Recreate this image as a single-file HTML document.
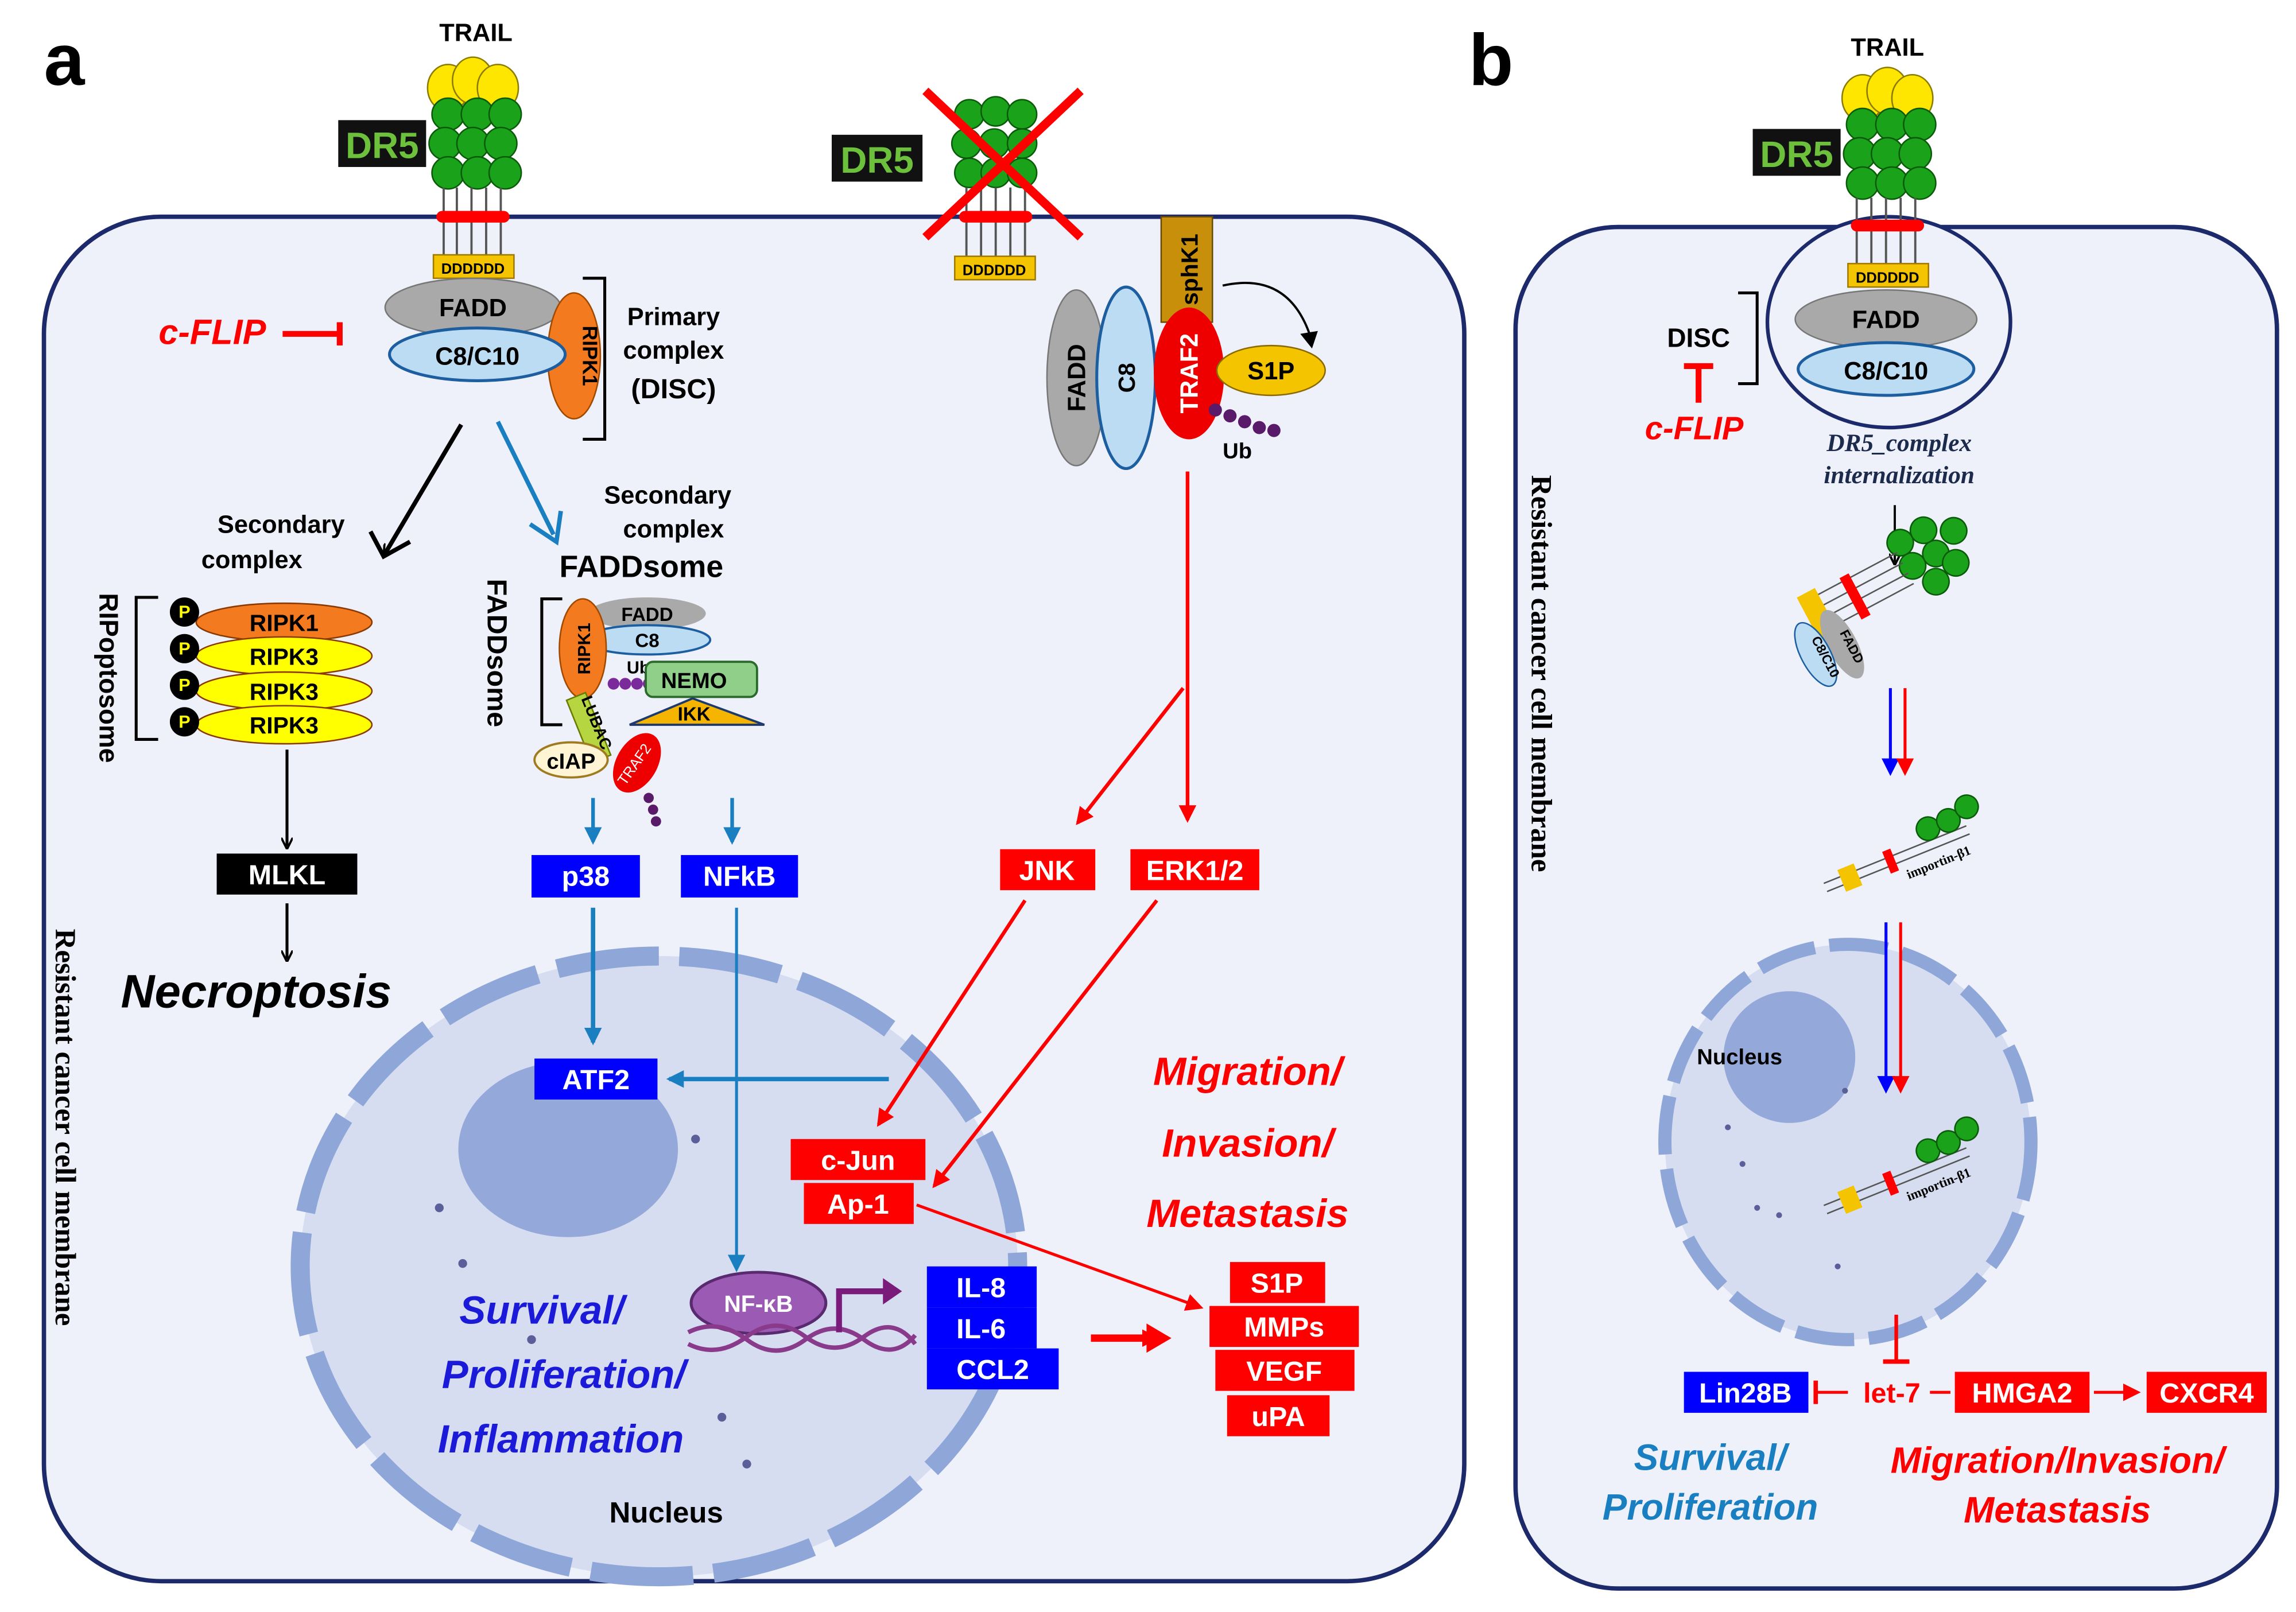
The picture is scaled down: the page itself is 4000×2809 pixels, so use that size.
<!DOCTYPE html>
<html><head><meta charset="utf-8"><style>
html,body{margin:0;padding:0;background:#fff;}
svg{display:block;}
text{font-family:"Liberation Sans",Arial,sans-serif;font-weight:bold;}
.bw{fill:#fff;font-size:19px;text-anchor:middle;}
</style></head><body>
<svg width="4000" height="2809" viewBox="0 0 1568 1101" xmlns="http://www.w3.org/2000/svg">
<defs>
<marker id="ab" markerWidth="8" markerHeight="8" refX="6" refY="4" orient="auto" markerUnits="userSpaceOnUse"><path d="M0,0 L8,4 L0,8" fill="none" stroke="#000" stroke-width="1.5"/></marker>
<marker id="abl" markerWidth="12" markerHeight="12" refX="10" refY="6" orient="auto" markerUnits="userSpaceOnUse"><path d="M0,0 L12,6 L0,12 Z" fill="#1a7fc0"/></marker>
<marker id="ar" markerWidth="12" markerHeight="12" refX="10" refY="6" orient="auto" markerUnits="userSpaceOnUse"><path d="M0,0 L12,6 L0,12 Z" fill="#f00"/></marker>
<marker id="abb" markerWidth="12" markerHeight="12" refX="10" refY="6" orient="auto" markerUnits="userSpaceOnUse"><path d="M0,0 L12,6 L0,12 Z" fill="#00f"/></marker>
<marker id="tr" markerWidth="4" markerHeight="16" refX="2" refY="8" orient="auto" markerUnits="userSpaceOnUse"><rect x="0" y="0" width="4" height="16" fill="#f00"/></marker>
</defs>
<!-- cells -->
<rect x="30" y="148" width="970" height="932" rx="80" fill="#eff1fa" stroke="#1c2a6b" stroke-width="3"/>
<rect x="1035" y="155" width="520" height="930" rx="70" fill="#eff1fa" stroke="#1c2a6b" stroke-width="3"/>
<text x="30" y="58" font-size="50" fill="#000">a</text>
<text x="1003" y="58" font-size="50" fill="#000">b</text>
<text transform="translate(38,770) rotate(90)" font-size="20" text-anchor="middle" style="font-family:'Liberation Serif',serif">Resistant cancer cell membrane</text>
<text transform="translate(1046,460) rotate(90)" font-size="20" text-anchor="middle" style="font-family:'Liberation Serif',serif">Resistant cancer cell membrane</text>
<!-- nucleus a -->
<ellipse cx="450" cy="865" rx="245" ry="212" fill="#d6ddf1" stroke="#8ea6d8" stroke-width="13" stroke-dasharray="70 14"/>
<ellipse cx="388" cy="785" rx="75" ry="60" fill="#94a9d9"/>
<g fill="#5a5f9a"><circle cx="300" cy="825" r="3"/><circle cx="475" cy="778" r="3"/><circle cx="316" cy="863" r="3"/><circle cx="363" cy="915" r="3"/><circle cx="493" cy="968" r="3"/><circle cx="510" cy="1000" r="3"/></g>
<text x="455" y="1040" font-size="20" text-anchor="middle">Nucleus</text>
<!-- nucleus b -->
<ellipse cx="1262" cy="780" rx="125" ry="135" fill="#d6ddf1" stroke="#8ea6d8" stroke-width="9" stroke-dasharray="40 10"/>
<circle cx="1222" cy="722" r="45" fill="#94a9d9"/>
<text x="1188" y="727" font-size="15" text-anchor="middle">Nucleus</text>
<g fill="#5a5f9a"><circle cx="1180" cy="770" r="2"/><circle cx="1190" cy="795" r="2"/><circle cx="1200" cy="825" r="2"/><circle cx="1215" cy="830" r="2"/><circle cx="1260" cy="745" r="2"/><circle cx="1255" cy="865" r="2"/></g>

<!-- Receptor a -->
<g>
<ellipse cx="306" cy="60" rx="14" ry="16" fill="#ffe600" stroke="#8a7a00"/><ellipse cx="323" cy="55" rx="14" ry="16" fill="#ffe600" stroke="#8a7a00"/><ellipse cx="340" cy="60" rx="14" ry="16" fill="#ffe600" stroke="#8a7a00"/>
<g fill="#1aa31a" stroke="#0a5a0a">
<circle cx="306" cy="78" r="11"/><circle cx="326" cy="78" r="11"/><circle cx="345" cy="78" r="11"/>
<circle cx="304" cy="98" r="11"/><circle cx="323" cy="98" r="11"/><circle cx="342" cy="98" r="11"/>
<circle cx="306" cy="118" r="11"/><circle cx="326" cy="118" r="11"/><circle cx="345" cy="118" r="11"/></g>
<g stroke="#555" stroke-width="1.5"><line x1="303" y1="128" x2="303" y2="175"/><line x1="312" y1="128" x2="312" y2="175"/><line x1="322" y1="128" x2="322" y2="175"/><line x1="332" y1="128" x2="332" y2="175"/><line x1="342" y1="128" x2="342" y2="175"/></g>
<rect x="298" y="144" width="50" height="8" rx="4" fill="#f00"/>
<rect x="296" y="174" width="55" height="16" fill="#f5c400" stroke="#a07a00"/>
<text x="323" y="187" font-size="10" text-anchor="middle">DDDDDD</text>
</g>
<rect x="231" y="82" width="60" height="32" fill="#111"/><text x="261" y="108" font-size="25" fill="#6cc03c" text-anchor="middle">DR5</text>
<text x="325" y="28" font-size="17" text-anchor="middle">TRAIL</text>

<!-- DISC a -->
<ellipse cx="323" cy="210" rx="60" ry="20" fill="#a9a9a9" stroke="#777"/>
<text x="323" y="216" font-size="17" text-anchor="middle">FADD</text>
<ellipse cx="392" cy="243" rx="18" ry="43" fill="#f47a20" stroke="#a04a00"/>
<text transform="translate(398,243) rotate(90)" font-size="14" text-anchor="middle">RIPK1</text>
<ellipse cx="326" cy="242" rx="60" ry="18" fill="#bcdcf3" stroke="#1c5ea0" stroke-width="2"/>
<text x="326" y="249" font-size="17" text-anchor="middle">C8/C10</text>
<path d="M398,190 H413 V300 H398" fill="none" stroke="#000" stroke-width="2"/>
<text x="460" y="222" font-size="17" text-anchor="middle">Primary</text>
<text x="460" y="245" font-size="17" text-anchor="middle">complex</text>
<text x="460" y="272" font-size="19" text-anchor="middle">(DISC)</text>
<text x="145" y="235" font-size="24" fill="#f00" font-style="italic" text-anchor="middle">c-FLIP</text>
<line x1="193" y1="228" x2="232" y2="228" stroke="#f00" stroke-width="4" marker-end="url(#tr)"/>

<!-- arrows from DISC -->
<line x1="315" y1="290" x2="263" y2="378" stroke="#000" stroke-width="3" marker-end="url(#ab)"/>
<path d="M253,363 L262,380 L280,370" fill="none" stroke="#000" stroke-width="3"/>
<line x1="340" y1="288" x2="378" y2="365" stroke="#1a7fc0" stroke-width="3"/>
<path d="M362,358 L380,370 L383,349" fill="none" stroke="#1a7fc0" stroke-width="3"/>

<text x="192" y="364" font-size="17" text-anchor="middle">Secondary</text>
<text x="172" y="388" font-size="17" text-anchor="middle">complex</text>
<text transform="translate(68,463) rotate(90)" font-size="18" text-anchor="middle">RIPoptosome</text>
<path d="M108,408 H93 V505 H108" fill="none" stroke="#000" stroke-width="2"/>
<g font-size="16">
<ellipse cx="194" cy="425" rx="60" ry="13" fill="#f47a20" stroke="#8a3a00"/><text x="194" y="431" text-anchor="middle">RIPK1</text>
<ellipse cx="194" cy="448" rx="60" ry="13" fill="#ffff00" stroke="#8a3a00"/><text x="194" y="454" text-anchor="middle">RIPK3</text>
<ellipse cx="194" cy="472" rx="60" ry="13" fill="#ffff00" stroke="#8a3a00"/><text x="194" y="478" text-anchor="middle">RIPK3</text>
<ellipse cx="194" cy="495" rx="60" ry="13" fill="#ffff00" stroke="#8a3a00"/><text x="194" y="501" text-anchor="middle">RIPK3</text>
</g>
<g><circle cx="126" cy="418" r="10" fill="#000"/><circle cx="126" cy="443" r="10" fill="#000"/><circle cx="126" cy="468" r="10" fill="#000"/><circle cx="126" cy="493" r="10" fill="#000"/>
<g font-size="12" fill="#ff0" text-anchor="middle"><text x="126" y="422">P</text><text x="126" y="447">P</text><text x="126" y="472">P</text><text x="126" y="497">P</text></g></g>
<line x1="196" y1="512" x2="196" y2="578" stroke="#000" stroke-width="2" marker-end="url(#ab)"/>
<rect x="148" y="583" width="96" height="28" fill="#000"/><text x="196" y="604" class="bw">MLKL</text>
<line x1="196" y1="617" x2="196" y2="655" stroke="#000" stroke-width="2" marker-end="url(#ab)"/>
<text x="175" y="688" font-size="32" font-style="italic" text-anchor="middle">Necroptosis</text>

<!-- FADDsome -->
<text x="456" y="344" font-size="17" text-anchor="middle">Secondary</text>
<text x="460" y="367" font-size="17" text-anchor="middle">complex</text>
<text x="438" y="394" font-size="21" text-anchor="middle">FADDsome</text>
<text transform="translate(333,446) rotate(90)" font-size="19" text-anchor="middle">FADDsome</text>
<path d="M384,409 H370 V495 H384" fill="none" stroke="#000" stroke-width="2"/>
<ellipse cx="442" cy="419" rx="40" ry="11" fill="#a9a9a9"/><text x="442" y="424" font-size="13" text-anchor="middle">FADD</text>
<ellipse cx="442" cy="437" rx="43" ry="10" fill="#bcdcf3" stroke="#1c5ea0" stroke-width="1.5"/><text x="442" y="442" font-size="13" text-anchor="middle">C8</text>
<ellipse cx="398" cy="443" rx="16" ry="34" fill="#f47a20" stroke="#a04a00"/>
<text transform="translate(403,443) rotate(-90)" font-size="12" text-anchor="middle">RIPK1</text>
<text x="428" y="460" font-size="12">Ub</text>
<g fill="#7a2a9a"><circle cx="419" cy="467" r="4"/><circle cx="427" cy="467" r="4"/><circle cx="435" cy="467" r="4"/><circle cx="443" cy="467" r="4"/></g>
<rect x="441" y="452" width="76" height="24" rx="5" fill="#8fcf8a" stroke="#2a6a2a" stroke-width="1.5"/><text x="474" y="470" font-size="15" text-anchor="middle">NEMO</text>
<path d="M430,495 L473,477 L522,495 Z" fill="#f5b400" stroke="#1c3a70" stroke-width="1.5"/><text x="474" y="492" font-size="13" text-anchor="middle">IKK</text>
<rect x="395" y="474" width="14" height="46" fill="#b5d640" stroke="#6a7a00" transform="rotate(-22 402 497)"/>
<text transform="translate(404,495) rotate(68)" font-size="11" text-anchor="middle">LUBAC</text>
<ellipse cx="390" cy="519" rx="25" ry="12" fill="#fff5d5" stroke="#a07a20" stroke-width="1.5"/><text x="390" y="525" font-size="15" text-anchor="middle">cIAP</text>
<ellipse cx="435" cy="521" rx="14" ry="22" fill="#e00" transform="rotate(30 435 521)"/>
<text transform="translate(436,524) rotate(-55)" font-size="10" fill="#fff" text-anchor="middle" style="font-weight:normal">TRAF2</text>
<g fill="#5a1a6a"><circle cx="443" cy="545" r="3.5"/><circle cx="446" cy="553" r="3.5"/><circle cx="448" cy="561" r="3.5"/></g>

<line x1="405" y1="545" x2="405" y2="575" stroke="#1a7fc0" stroke-width="2.5" marker-end="url(#abl)"/>
<line x1="500" y1="545" x2="500" y2="575" stroke="#1a7fc0" stroke-width="2.5" marker-end="url(#abl)"/>
<rect x="363" y="584" width="74" height="29" fill="#00f"/><text x="400" y="605" class="bw">p38</text>
<rect x="465" y="584" width="80" height="29" fill="#00f"/><text x="505" y="605" class="bw">NFkB</text>
<line x1="405" y1="620" x2="405" y2="712" stroke="#1a7fc0" stroke-width="3" marker-end="url(#abl)"/>
<line x1="503" y1="620" x2="503" y2="867" stroke="#1a7fc0" stroke-width="2" marker-end="url(#abl)"/>
<rect x="365" y="723" width="84" height="28" fill="#00f"/><text x="407" y="744" class="bw">ATF2</text>
<line x1="607" y1="737" x2="457" y2="737" stroke="#1a7fc0" stroke-width="3" marker-end="url(#abl)"/>

<!-- NF-kB -->
<ellipse cx="518" cy="890" rx="46" ry="21" fill="#9b5bb5" stroke="#5a2a70" stroke-width="2"/>
<text x="518" y="896" font-size="16" fill="#fff" text-anchor="middle">NF-κB</text>
<path d="M470,910 Q490,900 510,915 T550,915 T590,915 T625,912" fill="none" stroke="#8a3a8a" stroke-width="3"/>
<path d="M470,918 Q490,928 510,913 T550,913 T590,913 T625,918" fill="none" stroke="#8a3a8a" stroke-width="3"/>
<path d="M573,910 V882 H605" fill="none" stroke="#7a1a7a" stroke-width="4"/><path d="M603,873 L616,882 L603,891 Z" fill="#7a1a7a"/>
<rect x="633" y="865" width="75" height="28" fill="#00f"/><text x="670" y="886" class="bw">IL-8</text>
<rect x="633" y="893" width="75" height="28" fill="#00f"/><text x="670" y="914" class="bw">IL-6</text>
<rect x="633" y="921" width="90" height="28" fill="#00f"/><text x="678" y="942" class="bw">CCL2</text>
<line x1="745" y1="914" x2="790" y2="914" stroke="#f00" stroke-width="5" marker-end="url(#ar)"/>
<path d="M783,904 L800,914 L783,924 Z" fill="#f00"/>
<g font-size="27" font-style="italic" fill="#1a1ad8" text-anchor="middle">
<text x="370" y="904">Survival/</text><text x="385" y="948">Proliferation/</text><text x="383" y="992">Inflammation</text></g>
<g font-size="27" font-style="italic" fill="#f00" text-anchor="middle">
<text x="852" y="741">Migration/</text><text x="852" y="790">Invasion/</text><text x="852" y="838">Metastasis</text></g>

<!-- DR5 knocked -->
<g fill="#1aa31a" stroke="#0a5a0a">
<circle cx="662" cy="78" r="10"/><circle cx="680" cy="76" r="10"/><circle cx="698" cy="78" r="10"/>
<circle cx="660" cy="98" r="10"/><circle cx="679" cy="98" r="10"/><circle cx="698" cy="98" r="10"/>
<circle cx="662" cy="118" r="10"/><circle cx="680" cy="118" r="10"/><circle cx="698" cy="118" r="10"/></g>
<g stroke="#555" stroke-width="1.5"><line x1="660" y1="128" x2="660" y2="175"/><line x1="670" y1="128" x2="670" y2="175"/><line x1="680" y1="128" x2="680" y2="175"/><line x1="690" y1="128" x2="690" y2="175"/><line x1="700" y1="128" x2="700" y2="175"/></g>
<rect x="655" y="144" width="50" height="8" rx="4" fill="#f00"/>
<rect x="652" y="175" width="55" height="16" fill="#f5c400" stroke="#a07a00"/><text x="679" y="188" font-size="10" text-anchor="middle">DDDDDD</text>
<line x1="632" y1="62" x2="738" y2="162" stroke="#f00" stroke-width="6"/><line x1="738" y1="62" x2="632" y2="162" stroke="#f00" stroke-width="6"/>
<rect x="568" y="92" width="62" height="32" fill="#111"/><text x="599" y="118" font-size="25" fill="#6cc03c" text-anchor="middle">DR5</text>

<!-- TRAF2 complex -->
<ellipse cx="735" cy="258" rx="20" ry="60" fill="#a9a9a9" stroke="#777"/>
<text transform="translate(741,258) rotate(-90)" font-size="17" text-anchor="middle">FADD</text>
<ellipse cx="769" cy="258" rx="20" ry="62" fill="#bcdcf3" stroke="#1c5ea0" stroke-width="2"/>
<text transform="translate(775,258) rotate(-90)" font-size="16" text-anchor="middle">C8</text>
<rect x="793" y="148" width="35" height="72" fill="#c8900a" stroke="#6a4a00"/>
<text transform="translate(818,184) rotate(-90)" font-size="16" text-anchor="middle">sphK1</text>
<ellipse cx="812" cy="255" rx="24" ry="45" fill="#e00"/>
<text transform="translate(818,255) rotate(-90)" font-size="17" fill="#fff" text-anchor="middle">TRAF2</text>
<ellipse cx="868" cy="253" rx="37" ry="17" fill="#f5c400" stroke="#8a6a00"/><text x="868" y="259" font-size="17" text-anchor="middle">S1P</text>
<path d="M835,195 Q880,185 895,230" fill="none" stroke="#000" stroke-width="1.5"/><path d="M888,228 L896,238 L900,226 Z" fill="#000"/>
<g fill="#5a1a6a"><circle cx="830" cy="280" r="4.5"/><circle cx="840" cy="284" r="4.5"/><circle cx="850" cy="288" r="4.5"/><circle cx="860" cy="292" r="4.5"/><circle cx="870" cy="294" r="4.5"/></g>
<text x="845" y="313" font-size="15" text-anchor="middle">Ub</text>
<line x1="811" y1="322" x2="811" y2="560" stroke="#f00" stroke-width="2.5" marker-end="url(#ar)"/>
<line x1="808" y1="470" x2="736" y2="562" stroke="#f00" stroke-width="2.5" marker-end="url(#ar)"/>
<rect x="683" y="580" width="65" height="28" fill="#f00"/><text x="715" y="601" class="bw">JNK</text>
<rect x="772" y="580" width="88" height="28" fill="#f00"/><text x="816" y="601" class="bw">ERK1/2</text>
<line x1="700" y1="615" x2="600" y2="768" stroke="#f00" stroke-width="2.5" marker-end="url(#ar)"/>
<line x1="790" y1="615" x2="638" y2="810" stroke="#f00" stroke-width="2.5" marker-end="url(#ar)"/>
<rect x="540" y="778" width="92" height="28" fill="#f00"/><text x="586" y="799" class="bw">c-Jun</text>
<rect x="549" y="808" width="75" height="28" fill="#f00"/><text x="586" y="829" class="bw">Ap-1</text>
<line x1="626" y1="823" x2="820" y2="893" stroke="#f00" stroke-width="2" marker-end="url(#ar)"/>
<rect x="840" y="862" width="65" height="28" fill="#f00"/><text x="872" y="883" class="bw">S1P</text>
<rect x="826" y="892" width="102" height="28" fill="#f00"/><text x="877" y="913" class="bw">MMPs</text>
<rect x="830" y="922" width="95" height="28" fill="#f00"/><text x="877" y="943" class="bw">VEGF</text>
<rect x="838" y="953" width="70" height="28" fill="#f00"/><text x="873" y="974" class="bw">uPA</text>

<!-- panel b receptor -->
<ellipse cx="1290" cy="220" rx="83" ry="72" fill="#eff1fa" stroke="#1c2a6b" stroke-width="2.5"/>
<g>
<ellipse cx="1272" cy="67" rx="14" ry="16" fill="#ffe600" stroke="#8a7a00"/><ellipse cx="1289" cy="62" rx="14" ry="16" fill="#ffe600" stroke="#8a7a00"/><ellipse cx="1306" cy="67" rx="14" ry="16" fill="#ffe600" stroke="#8a7a00"/>
<g fill="#1aa31a" stroke="#0a5a0a">
<circle cx="1272" cy="85" r="11"/><circle cx="1292" cy="85" r="11"/><circle cx="1311" cy="85" r="11"/>
<circle cx="1270" cy="105" r="11"/><circle cx="1289" cy="105" r="11"/><circle cx="1308" cy="105" r="11"/>
<circle cx="1272" cy="125" r="11"/><circle cx="1292" cy="125" r="11"/><circle cx="1311" cy="125" r="11"/></g>
<g stroke="#555" stroke-width="1.5"><line x1="1268" y1="135" x2="1268" y2="182"/><line x1="1278" y1="135" x2="1278" y2="182"/><line x1="1288" y1="135" x2="1288" y2="182"/><line x1="1298" y1="135" x2="1298" y2="182"/><line x1="1308" y1="135" x2="1308" y2="182"/></g>
<rect x="1264" y="150" width="50" height="8" rx="4" fill="#f00"/>
<rect x="1262" y="180" width="55" height="16" fill="#f5c400" stroke="#a07a00"/><text x="1289" y="193" font-size="10" text-anchor="middle">DDDDDD</text>
</g>
<rect x="1197" y="88" width="60" height="32" fill="#111"/><text x="1227" y="114" font-size="25" fill="#6cc03c" text-anchor="middle">DR5</text>
<text x="1289" y="38" font-size="17" text-anchor="middle">TRAIL</text>
<ellipse cx="1288" cy="218" rx="62" ry="20" fill="#a9a9a9" stroke="#777"/><text x="1288" y="224" font-size="17" text-anchor="middle">FADD</text>
<ellipse cx="1288" cy="252" rx="60" ry="18" fill="#bcdcf3" stroke="#1c5ea0" stroke-width="2"/><text x="1288" y="259" font-size="17" text-anchor="middle">C8/C10</text>
<path d="M1187,200 H1200 V262 H1187" fill="none" stroke="#000" stroke-width="2"/>
<text x="1160" y="237" font-size="18" text-anchor="middle">DISC</text>
<line x1="1160" y1="275" x2="1160" y2="250" stroke="#f00" stroke-width="4"/><line x1="1150" y1="250" x2="1170" y2="250" stroke="#f00" stroke-width="4"/>
<text x="1157" y="300" font-size="22" fill="#f00" font-style="italic" text-anchor="middle">c-FLIP</text>
<text x="1297" y="308" font-size="17" fill="#1c2a4b" font-style="italic" text-anchor="middle" style="font-family:'Liberation Serif',serif">DR5_complex</text>
<text x="1297" y="330" font-size="17" fill="#1c2a4b" font-style="italic" text-anchor="middle" style="font-family:'Liberation Serif',serif">internalization</text>
<line x1="1294" y1="345" x2="1294" y2="384" stroke="#000" stroke-width="1.5" marker-end="url(#ab)"/>
<!-- internalized tilted complex -->
<g transform="rotate(-28 1290 420)">
<g fill="#1aa31a" stroke="#0a5a0a"><circle cx="1320" cy="380" r="9"/><circle cx="1338" cy="380" r="9"/><circle cx="1320" cy="398" r="9"/><circle cx="1338" cy="398" r="9"/><circle cx="1356" cy="390" r="9"/><circle cx="1329" cy="415" r="9"/><circle cx="1347" cy="410" r="9"/></g>
<g stroke="#555"><line x1="1240" y1="385" x2="1315" y2="385"/><line x1="1240" y1="393" x2="1315" y2="393"/><line x1="1240" y1="401" x2="1315" y2="401"/><line x1="1240" y1="409" x2="1315" y2="409"/></g>
<rect x="1272" y="382" width="7" height="32" fill="#f00"/>
<rect x="1240" y="380" width="14" height="36" fill="#f5c400"/>
</g>
<ellipse cx="1258" cy="440" rx="10" ry="26" fill="#a9a9a9" transform="rotate(-28 1258 440)"/>
<ellipse cx="1240" cy="447" rx="10" ry="24" fill="#bcdcf3" stroke="#1c5ea0" transform="rotate(-28 1240 447)"/>
<text transform="translate(1244,450) rotate(62)" font-size="9" text-anchor="middle">C8/C10</text>
<text transform="translate(1262,443) rotate(62)" font-size="9" text-anchor="middle">FADD</text>
<line x1="1291" y1="470" x2="1291" y2="528" stroke="#00f" stroke-width="2" marker-end="url(#abb)"/>
<line x1="1301" y1="470" x2="1301" y2="528" stroke="#f00" stroke-width="2" marker-end="url(#ar)"/>
<!-- importin -->
<g transform="rotate(-22 1290 580)">
<line x1="1240" y1="585" x2="1345" y2="585" stroke="#555"/><line x1="1240" y1="591" x2="1345" y2="591" stroke="#555"/>
<rect x="1252" y="580" width="12" height="16" fill="#f5c400"/><rect x="1285" y="580" width="6" height="16" fill="#f00"/>
<g fill="#1aa31a" stroke="#0a5a0a"><circle cx="1320" cy="577" r="8"/><circle cx="1335" cy="577" r="8"/><circle cx="1350" cy="573" r="8"/></g>
<text x="1295" y="604" font-size="9" style="font-family:'Liberation Serif',serif">importin-β1</text>
</g>
<line x1="1288" y1="630" x2="1288" y2="745" stroke="#00f" stroke-width="2" marker-end="url(#abb)"/>
<line x1="1298" y1="630" x2="1298" y2="745" stroke="#f00" stroke-width="2" marker-end="url(#ar)"/>
<g transform="rotate(-22 1290 800)">
<line x1="1240" y1="805" x2="1345" y2="805" stroke="#555"/><line x1="1240" y1="811" x2="1345" y2="811" stroke="#555"/>
<rect x="1252" y="800" width="12" height="16" fill="#f5c400"/><rect x="1285" y="800" width="6" height="16" fill="#f00"/>
<g fill="#1aa31a" stroke="#0a5a0a"><circle cx="1320" cy="797" r="8"/><circle cx="1335" cy="797" r="8"/><circle cx="1350" cy="793" r="8"/></g>
<text x="1295" y="824" font-size="9" style="font-family:'Liberation Serif',serif">importin-β1</text>
</g>
<line x1="1295" y1="898" x2="1295" y2="930" stroke="#f00" stroke-width="2.5"/><line x1="1286" y1="930" x2="1304" y2="930" stroke="#f00" stroke-width="3"/>
<rect x="1150" y="937" width="85" height="28" fill="#00f"/><text x="1192" y="958" class="bw">Lin28B</text>
<line x1="1262" y1="951" x2="1240" y2="951" stroke="#f00" stroke-width="2"/><line x1="1240" y1="943" x2="1240" y2="959" stroke="#f00" stroke-width="3"/>
<text x="1292" y="958" font-size="19" fill="#f00" text-anchor="middle">let-7</text>
<line x1="1318" y1="951" x2="1332" y2="951" stroke="#f00" stroke-width="2"/>
<rect x="1335" y="937" width="92" height="28" fill="#f00"/><text x="1381" y="958" class="bw">HMGA2</text>
<line x1="1430" y1="951" x2="1460" y2="951" stroke="#f00" stroke-width="2" marker-end="url(#ar)"/>
<rect x="1466" y="937" width="82" height="28" fill="#f00"/><text x="1507" y="958" class="bw">CXCR4</text>
<g font-size="25" font-style="italic" fill="#1a7fc0" text-anchor="middle"><text x="1168" y="1004">Survival/</text><text x="1168" y="1038">Proliferation</text></g>
<g font-size="25" font-style="italic" fill="#f00" text-anchor="middle"><text x="1405" y="1006">Migration/Invasion/</text><text x="1405" y="1040">Metastasis</text></g>
</svg>
</body></html>
